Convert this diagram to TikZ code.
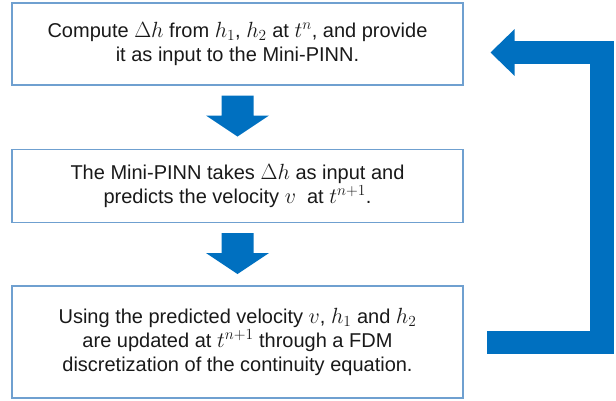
\RequirePackage{fix-cm}
\documentclass[tikz,border=0pt]{standalone}
\usepackage{fontspec}
\setmainfont{Liberation Sans}
\usetikzlibrary{calc}
\definecolor{arrowblue}{HTML}{0070C0}
\definecolor{boxline}{HTML}{6FA0D0}
\newcommand\mymath[1]{{\fontsize{22}{24}\selectfont$#1$}}
\tikzset{
  stepbox/.style={draw=boxline, line width=1.1pt, minimum width=451pt, align=center,
    font=\fontsize{20}{24}\selectfont, inner sep=0pt, text=black!90},
  bigarrow/.style={fill=arrowblue, draw=none},
}
\begin{document}
\begin{tikzpicture}[x=1pt,y=-1pt]
\useasboundingbox (0,0) rectangle (616,400);
\node[stepbox, minimum height=82pt] (b1) at (237.5,44)
  {Compute \mymath{\Delta h} from \mymath{h_1}, \mymath{h_2} at \mymath{t^n}, and provide\\ it as input to the Mini-PINN.};
\node[stepbox, minimum height=73pt] (b2) at (237.5,186)
  {The Mini-PINN takes \mymath{\Delta h} as input and\\ predicts the velocity \mymath{v}\ \ at \mymath{t^{n+1}}.};
\node[stepbox, minimum height=112pt] (b3) at (237.5,342)
  {Using the predicted velocity \mymath{v}, \mymath{h_1} and \mymath{h_2}\\ are updated at \mymath{t^{n+1}} through a FDM\\ discretization of the continuity equation.};
% down arrows
\foreach \a in {b1,b2}{
  \fill[bigarrow] ($(\a.south)+(-16,10)$) -- ($(\a.south)+(16,10)$) -- ($(\a.south)+(16,30)$)
    -- ($(\a.south)+(31.5,30)$) -- ($(\a.south)+(0,51)$) -- ($(\a.south)+(-31.5,30)$)
    -- ($(\a.south)+(-16,30)$) -- cycle;
}
% feedback arrow
\coordinate (fbstart) at (487,342.5);
\coordinate (fbcorner) at (602,52.5);
\coordinate (fbhead) at (514,52.5);
\coordinate (fbtip) at (490.5,52.5);
\draw[arrowblue, line width=23.5pt, line join=miter, line cap=butt] (fbstart) -| (fbcorner) -- (fbhead);
\fill[bigarrow] ($(fbhead)+(0.5,-23.3)$) -- ($(fbhead)+(0.5,23.3)$) -- (fbtip) -- cycle;
\end{tikzpicture}
\end{document}
